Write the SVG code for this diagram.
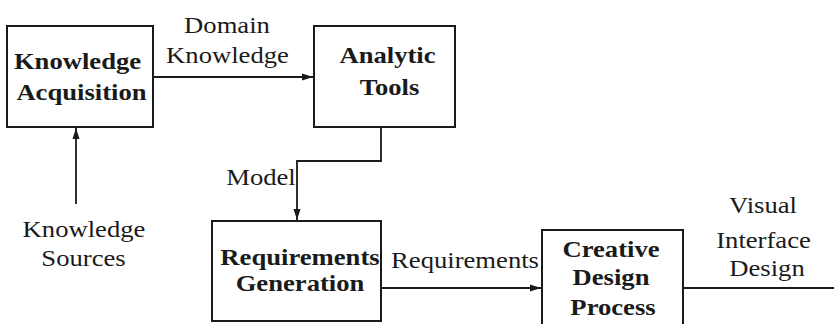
<svg xmlns="http://www.w3.org/2000/svg" width="834" height="324" viewBox="0 0 834 324">
<style>
.box{fill:#fff;stroke:#1a1a1a;stroke-width:2}
.c{fill:none;stroke:#1a1a1a;stroke-width:1.8}
</style>
<defs>
<marker id="ah" markerUnits="userSpaceOnUse" markerWidth="12" markerHeight="8" refX="11" refY="4" orient="auto">
<path d="M0,0.5 L11,4 L0,7.5 z" fill="#1a1a1a"/>
</marker>
</defs>
<rect width="834" height="324" fill="#fff"/>
<g id="connectors">
<path class="c" d="M153 77 H313" marker-end="url(#ah)"/>
<path class="c" d="M76 204 V128" marker-end="url(#ah)"/>
<path class="c" d="M381 127 V161 H297 V220" marker-end="url(#ah)"/>
<path class="c" d="M381 288 H541" marker-end="url(#ah)"/>
<path class="c" d="M683 288 H834"/>
<g font-family="Liberation Serif" font-size="24" fill="#1a1a1a" text-anchor="middle">
<text transform="matrix(1.11 0 0 1 227 33)">Domain</text>
<text transform="matrix(1.11 0 0 1 227.5 63)">Knowledge</text>
<text transform="matrix(1.11 0 0 1 261 185)">Model</text>
<text transform="matrix(1.11 0 0 1 465 268)">Requirements</text>
<text transform="matrix(1.11 0 0 1 763 213)">Visual</text>
<text transform="matrix(1.11 0 0 1 763.5 248)">Interface</text>
<text transform="matrix(1.11 0 0 1 767 276)">Design</text>
</g>
</g>
<g id="knowledge-acquisition" font-family="Liberation Serif" font-size="24" font-weight="bold" fill="#1a1a1a" text-anchor="middle">
<rect class="box" x="7" y="26" width="146" height="101"/>
<text transform="matrix(1.11 0 0 1 77.5 69)">Knowledge</text>
<text transform="matrix(1.11 0 0 1 81.5 100)">Acquisition</text>
</g>
<g id="analytic-tools" font-family="Liberation Serif" font-size="24" font-weight="bold" fill="#1a1a1a" text-anchor="middle">
<rect class="box" x="314" y="26" width="141" height="101"/>
<text transform="matrix(1.11 0 0 1 387.5 63)">Analytic</text>
<text transform="matrix(1.11 0 0 1 389.5 95)">Tools</text>
</g>
<g id="knowledge-sources" font-family="Liberation Serif" font-size="24" fill="#1a1a1a" text-anchor="middle">
<text transform="matrix(1.11 0 0 1 84 237)">Knowledge</text>
<text transform="matrix(1.11 0 0 1 83.5 266)">Sources</text>
</g>
<g id="requirements-generation" font-family="Liberation Serif" font-size="24" font-weight="bold" fill="#1a1a1a" text-anchor="middle">
<rect class="box" x="212" y="221" width="169" height="100"/>
<text transform="matrix(1.11 0 0 1 300 265)">Requirements</text>
<text transform="matrix(1.11 0 0 1 300 291)">Generation</text>
</g>
<g id="creative-design-process" font-family="Liberation Serif" font-size="24" font-weight="bold" fill="#1a1a1a" text-anchor="middle">
<rect class="box" x="542" y="230" width="141" height="110"/>
<text transform="matrix(1.11 0 0 1 611 257)">Creative</text>
<text transform="matrix(1.11 0 0 1 611 285)">Design</text>
<text transform="matrix(1.11 0 0 1 613 315)">Process</text>
</g>
</svg>
